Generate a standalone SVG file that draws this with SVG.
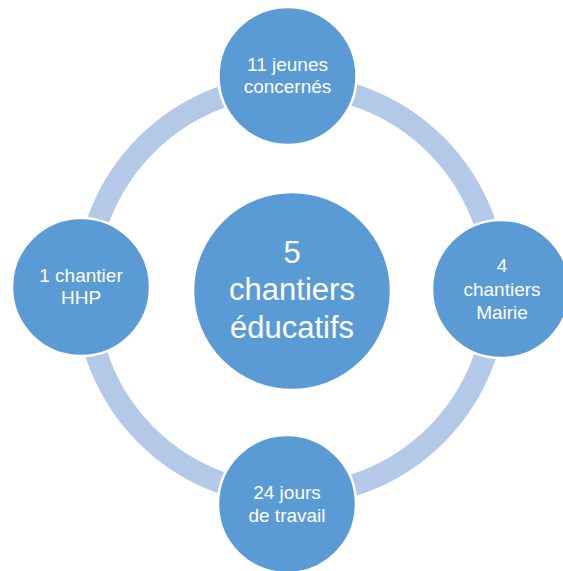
<svg xmlns="http://www.w3.org/2000/svg" width="563" height="571" viewBox="0 0 563 571">
<style>
.ring{fill:none;stroke:#B4C8E7;stroke-width:22}
.node{fill:#5B9BD5;stroke:#FFFFFF;stroke-width:2.5}
.t{font-family:"Liberation Sans",Arial,sans-serif;fill:#FFFFFF;text-anchor:middle}
.s{font-size:19px}
.b{font-size:31px}
</style>
<rect width="563" height="571" fill="#FFFFFF"/>
<g id="connectors">
<circle class="ring" cx="291" cy="290" r="205"/>
</g>
<g id="center">
<circle class="node" cx="292" cy="291" r="99"/>
<text class="t b" x="292" y="263">5</text>
<text class="t b" x="292" y="300">chantiers</text>
<text class="t b" x="292" y="338">éducatifs</text>
</g>
<g id="top">
<circle class="node" cx="287.5" cy="76" r="69"/>
<text class="t s" x="287.5" y="71">11 jeunes</text>
<text class="t s" x="287.5" y="93">concernés</text>
</g>
<g id="left">
<circle class="node" cx="81" cy="287" r="69"/>
<text class="t s" x="81" y="282">1 chantier</text>
<text class="t s" x="81" y="304">HHP</text>
</g>
<g id="right">
<circle class="node" cx="501" cy="289" r="69"/>
<text class="t s" x="502" y="272">4</text>
<text class="t s" x="502" y="296">chantiers</text>
<text class="t s" x="502" y="319">Mairie</text>
</g>
<g id="bottom">
<circle class="node" cx="287" cy="504" r="69"/>
<text class="t s" x="287" y="499">24 jours</text>
<text class="t s" x="287" y="522">de travail</text>
</g>
</svg>
